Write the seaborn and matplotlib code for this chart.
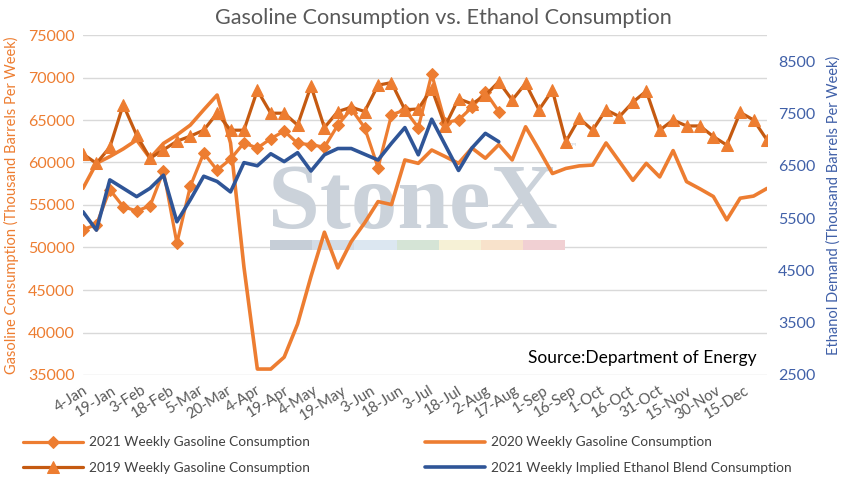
# Gasoline vs ethanol consumption, weekly, with the StoneX watermark
import pandas as pd
import matplotlib
matplotlib.use('Agg')
import matplotlib.pyplot as plt
from matplotlib.patches import Rectangle
import seaborn as sns

# weekly points, first week on 4-Jan
weeks = pd.date_range('2021-01-04', periods=52, freq='7D')

gas_2021 = [52100, 52700, 56800, 54800, 54300, 54900, 59000, 50500, 57200, 61100,
            59100, 60400, 62300, 61700, 62800, 63700, 62250, 62100, 61800, 64400,
            66300, 64100, 59400, 65600, 66200, 64100, 70400, 64700, 65000, 66500,
            68300, 66000]

gas_2020 = [56960, 59900, 60700, 61600, 62650, 60500, 62250, 63240, 64400, 66200,
            67940, 62300, 47700, 35700, 35700, 37100, 41000, 46600, 51800, 47600,
            50700, 52900, 55400, 55050, 60300, 59900, 61470, 60700, 59900, 61700,
            60500, 62100, 60300, 64200, 61500, 58700, 59300, 59600, 59700, 62300,
            60100, 57900, 59900, 58300, 61400, 57750, 56900, 56000, 53250, 55800,
            56050, 56950]

gas_2019 = [61000, 59900, 61800, 66800, 63200, 60500, 61500, 62500, 63100, 63800,
            65800, 63800, 63800, 68500, 65800, 65800, 64400, 69000, 64100, 66000,
            66500, 66000, 69100, 69400, 66200, 66300, 68700, 64300, 67500, 66900,
            67900, 69500, 67350, 69300, 66200, 68500, 62450, 65200, 63800, 66200,
            65400, 67100, 68400, 63800, 65000, 64300, 64300, 63050, 62050, 65900,
            65000, 62650]

ethanol_2021 = [5620, 5270, 6230, 6070, 5910, 6070, 6320, 5430, 5850, 6300,
                6200, 6000, 6560, 6500, 6730, 6580, 6750, 6400, 6710, 6830,
                6830, 6720, 6610, 6930, 7230, 6710, 7390, 6900, 6410, 6840,
                7120, 6960]

tick_dates = pd.date_range('2021-01-04', periods=24, freq='15D')
tick_labels = ['4-Jan', '19-Jan', '3-Feb', '18-Feb', '5-Mar', '20-Mar', '4-Apr',
               '19-Apr', '4-May', '19-May', '3-Jun', '18-Jun', '3-Jul', '18-Jul',
               '2-Aug', '17-Aug', '1-Sep', '16-Sep', '1-Oct', '16-Oct', '31-Oct',
               '15-Nov', '30-Nov', '15-Dec']

ORANGE = '#ED7D31'
DARK_ORANGE = '#C55A11'
BLUE = '#2F5597'
AXIS_BLUE = '#4060A8'
GRAY = '#595959'

sns.set_style('white')
plt.rcParams['font.family'] = ['Lato', 'DejaVu Sans']

fig, ax = plt.subplots(figsize=(8.46, 4.90), dpi=100)
fig.subplots_adjust(left=83 / 846, right=767 / 846, top=1 - 35 / 490, bottom=1 - 375 / 490)

sns.lineplot(x=weeks[:len(gas_2021)], y=gas_2021, ax=ax, color=ORANGE, lw=2.3,
             marker='D', markersize=6.5, markeredgecolor=ORANGE, legend=False)
h21 = ax.lines[-1]
sns.lineplot(x=weeks, y=gas_2020, ax=ax, color=ORANGE, lw=2.6, legend=False)
h20 = ax.lines[-1]
sns.lineplot(x=weeks, y=gas_2019, ax=ax, color=DARK_ORANGE, lw=2.3,
             marker='^', markersize=8.5, markerfacecolor=ORANGE,
             markeredgecolor=ORANGE, legend=False)
h19 = ax.lines[-1]

ax2 = ax.twinx()
sns.lineplot(x=weeks[:len(ethanol_2021)], y=ethanol_2021, ax=ax2, color=BLUE,
             lw=2.6, legend=False)
heth = ax2.lines[-1]

ax.set_ylim(35000, 75000)
ax.set_yticks(range(35000, 75001, 5000))
ax2.set_ylim(2500, 9000)
ax2.set_yticks(range(2500, 8501, 1000))
ax.set_xlim(weeks[0], weeks[-1])
ax.set_xticks(tick_dates)
ax.set_xticklabels(tick_labels, rotation=32, ha='right', rotation_mode='anchor')

ax.yaxis.grid(True, color='#D9D9D9', lw=1)
ax.xaxis.grid(False)
ax2.grid(False)
for a in (ax, ax2):
    for s in a.spines.values():
        s.set_visible(False)
    a.set_xlabel('')

ax.tick_params(axis='y', length=0, labelsize=11.5, labelcolor=ORANGE, pad=6)
ax.tick_params(axis='x', length=0, labelsize=10.8, labelcolor=GRAY, pad=6)
ax2.tick_params(axis='y', length=0, labelsize=11.5, labelcolor=AXIS_BLUE, pad=8)

ax.set_ylabel('Gasoline Consumption (Thousand Barrels Per Week)', color=ORANGE,
              fontsize=10.5, labelpad=6)
ax2.set_ylabel('Ethanol Demand (Thousand Barrels Per Week)', color=AXIS_BLUE,
               fontsize=10.5, labelpad=8)

fig.suptitle('Gasoline Consumption vs. Ethanol Consumption', color=GRAY,
             fontsize=15.6, x=443 / 846, y=1 - 18 / 490, va='center')

# watermark
ax.text(268 / 846, 1 - 228 / 490, 'StoneX', transform=fig.transFigure,
        family='Liberation Serif', weight='bold', fontsize=67, color='#CBD2DA',
        va='baseline', ha='left', zorder=0.6)
ax.text(568 / 846, 1 - 146 / 490, '™', transform=fig.transFigure,
        family='DejaVu Sans', fontsize=7, color='#CBD2DA', va='center', zorder=0.6)
bar_colors = ['#C6CED7', '#D3DCE6', '#DCE7F1', '#D5E4D6', '#F6F1D6', '#F8E2CB', '#F1D0D3']
for k, c in enumerate(bar_colors):
    ax.add_patch(Rectangle(((270 + k * 42.2) / 846, 1 - 250 / 490), 42.2 / 846, 10 / 490,
                           transform=fig.transFigure, color=c, lw=0, zorder=0.6))

ax.text(757 / 846, 1 - 358 / 490, 'Source:Department of Energy',
        transform=fig.transFigure, ha='right', va='center', fontsize=12.5, color='black')

leg_kw = dict(frameon=False, fontsize=9.8, handlelength=4.4, handletextpad=0.45,
              labelspacing=1.0, labelcolor='#404040', borderaxespad=0)
fig.legend(handles=[h21, h19], labels=['2021 Weekly Gasoline Consumption',
                                       '2019 Weekly Gasoline Consumption'],
           loc='upper left', bbox_to_anchor=(18 / 846, 1 - 431 / 490), **leg_kw)
fig.legend(handles=[h20, heth], labels=['2020 Weekly Gasoline Consumption',
                                        '2021 Weekly Implied Ethanol Blend Consumption'],
           loc='upper left', bbox_to_anchor=(420 / 846, 1 - 431 / 490), **leg_kw)

fig.savefig('out.png', dpi=100, facecolor='white')
